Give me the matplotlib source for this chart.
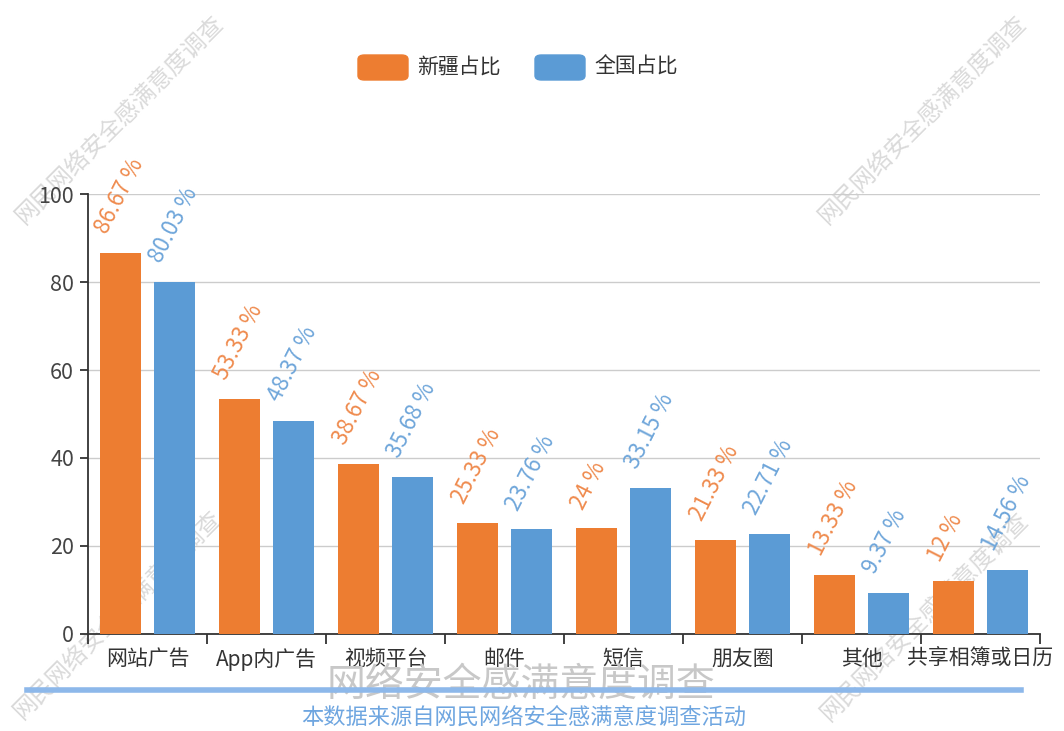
import numpy as np
import matplotlib
matplotlib.use("Agg")
import matplotlib.pyplot as plt
from matplotlib.patches import FancyBboxPatch
from matplotlib.lines import Line2D

plt.rcParams['font.family'] = ['Noto Sans CJK SC', 'DejaVu Sans']

# data
categories = ['网站广告', 'App内广告', '视频平台', '邮件', '短信', '朋友圈', '其他', '共享相簿或日历']
xinjiang = [86.67, 53.33, 38.67, 25.33, 24, 21.33, 13.33, 12]
national = [80.03, 48.37, 35.68, 23.76, 33.15, 22.71, 9.37, 14.56]
series_names = ['新疆占比', '全国占比']
yticks = [0, 20, 40, 60, 80, 100]

orange = '#ED7D31'
blue = '#5B9BD5'
orange_lbl = '#EF8B4E'
blue_lbl = '#6FA6DA'

W, H = 1064, 731
fig = plt.figure(figsize=(W / 100, H / 100), dpi=100)


def fx(px):
    return px / W


def fy(py):
    return 1 - py / H


# faint watermark behind everything
for cx, cy in [(120, 120), (923, 120), (118, 615), (925, 617)]:
    fig.text(fx(cx), fy(cy), '网民网络安全感满意度调查', rotation=45,
             ha='center', va='center', fontsize=17, color='#dadada',
             zorder=-5)

ax = fig.add_axes([fx(88), fy(634), fx(1040) - fx(88), fy(194) - fy(634)])
ax.patch.set_visible(False)

x = np.arange(len(categories))
off = 0.227
bw = 0.345
b1 = ax.bar(x - off, xinjiang, bw, color=orange, zorder=3)
b2 = ax.bar(x + off, national, bw, color=blue, zorder=3)

# rotated value labels above each bar
for bars, vals, col in [(b1, xinjiang, orange_lbl), (b2, national, blue_lbl)]:
    for rect, v in zip(bars, vals):
        cx = rect.get_x() + rect.get_width() / 2
        ax.annotate(f'{v:g} %', (cx, v), xytext=(-14, 15),
                    textcoords='offset points', rotation=63,
                    rotation_mode='anchor', ha='left', va='center',
                    fontsize=16, color=col, zorder=4)

ax.set_xlim(-0.5, len(categories) - 0.5)
ax.set_ylim(0, 100)
ax.set_yticks(yticks)
ax.yaxis.grid(True, color='#cccccc', linewidth=1, zorder=0)
ax.set_axisbelow(True)

ax.set_xticks(x)
ax.set_xticklabels(categories, fontsize=15, color='#333333')
ax.tick_params(axis='x', length=0, pad=10)
ax.set_xticks(np.arange(len(categories) + 1) - 0.5, minor=True)
ax.tick_params(axis='x', which='minor', length=7, width=1.3, color='#333333')
ax.tick_params(axis='y', labelsize=15.5, labelcolor='#444444', length=6,
               width=1.3, color='#333333', pad=4)

for s in ['top', 'right']:
    ax.spines[s].set_visible(False)
for s in ['left', 'bottom']:
    ax.spines[s].set_color('#333333')
    ax.spines[s].set_linewidth(1.3)

# legend boxes at the top
for (x0, name, col) in [(358, series_names[0], orange), (535, series_names[1], blue)]:
    fig.patches.append(FancyBboxPatch((fx(x0), fy(80)), fx(50), fy(55) - fy(80),
                                      boxstyle='round,pad=0,rounding_size=0.006',
                                      transform=fig.transFigure, color=col))
    fig.text(fx(x0 + 59), fy(67), name, ha='left', va='center',
             fontsize=15, color='#333333')

# footer: title, rule and source line
fig.text(fx(521), fy(685), '网络安全感满意度调查', ha='center', va='center',
         fontsize=28, color='#c8c8c8', fontweight='light', zorder=1)
fig.add_artist(Line2D([fx(27), fx(1021)], [fy(690), fy(690)],
                      transform=fig.transFigure, color='#8DB8EA',
                      linewidth=4, zorder=2))
fig.text(fx(524), fy(718), '本数据来源自网民网络安全感满意度调查活动',
         ha='center', va='center', fontsize=16, color='#6FA6E0', zorder=3)

fig.savefig('out.png', dpi=100)
